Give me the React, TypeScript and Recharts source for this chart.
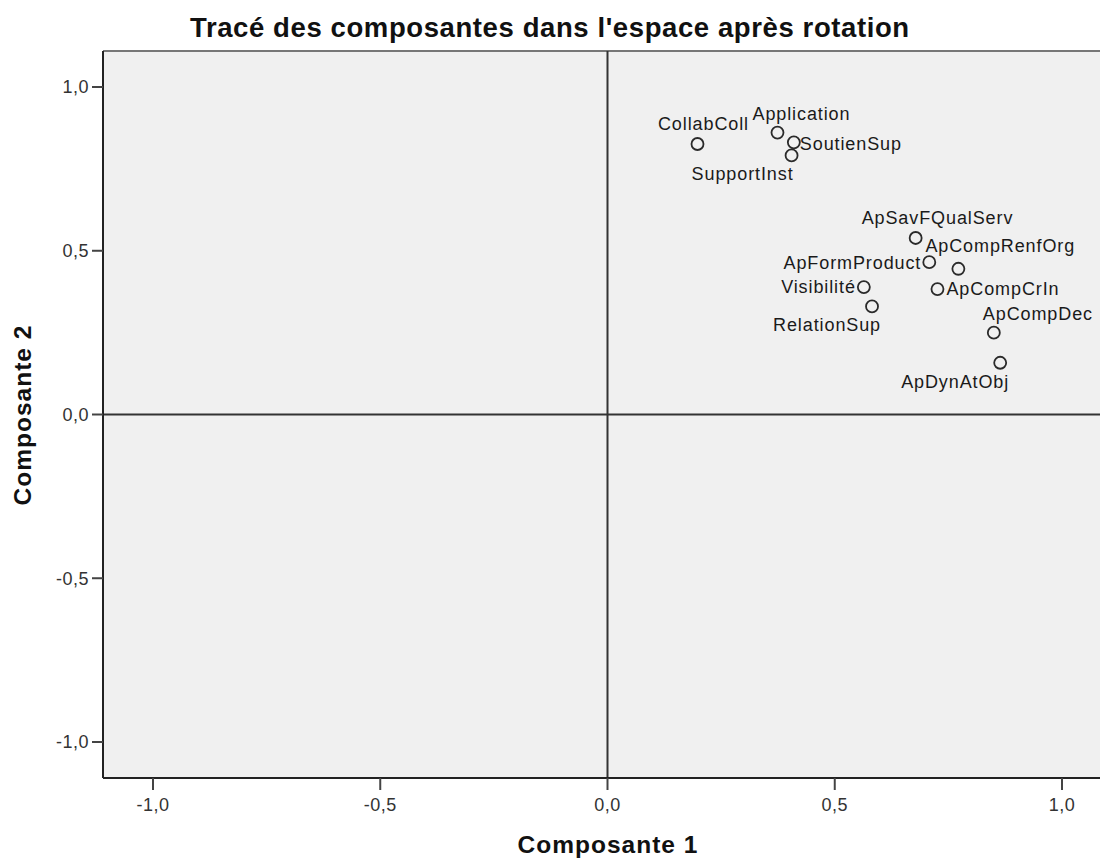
import React from 'react';
import {
  ScatterChart,
  Scatter,
  XAxis,
  YAxis,
  CartesianGrid,
  ReferenceLine,
  Label,
} from 'recharts';

// loadings after rotation
const components = [
  'CollabColl',
  'Application',
  'SoutienSup',
  'SupportInst',
  'ApSavFQualServ',
  'ApCompRenfOrg',
  'ApFormProduct',
  'Visibilité',
  'ApCompCrIn',
  'RelationSup',
  'ApCompDec',
  'ApDynAtObj',
];
const comp1 = [0.198, 0.374, 0.41, 0.405, 0.678, 0.772, 0.708, 0.564, 0.726, 0.582, 0.85, 0.864];
const comp2 = [0.826, 0.861, 0.831, 0.791, 0.539, 0.445, 0.465, 0.389, 0.383, 0.33, 0.25, 0.158];
const axisTicks = [-1, -0.5, 0, 0.5, 1];
const AXIS_LIMIT = 1.11;

// where each label sits relative to its point
const labelPlacement: Array<{ anchor: 'start' | 'middle' | 'end'; dx: number; dy: number }> = [
  { anchor: 'middle', dx: 6, dy: -14 },
  { anchor: 'start', dx: -25, dy: -13 },
  { anchor: 'start', dx: 6, dy: 8 },
  { anchor: 'end', dx: 2, dy: 25 },
  { anchor: 'start', dx: -54, dy: -14 },
  { anchor: 'start', dx: -33, dy: -17 },
  { anchor: 'end', dx: -8, dy: 7 },
  { anchor: 'end', dx: -8, dy: 6 },
  { anchor: 'start', dx: 9, dy: 6 },
  { anchor: 'end', dx: 9, dy: 25 },
  { anchor: 'start', dx: -11, dy: -13 },
  { anchor: 'end', dx: 9, dy: 25 },
];

const data = components.map((name, i) => ({ name, x: comp1[i], y: comp2[i], i }));

const FONT = '"Liberation Sans", Arial, sans-serif';
const fmt = (v: number) => v.toFixed(1).replace('.', ',');

const PointWithLabel = (props: any) => {
  const { cx, cy, payload } = props;
  const p = labelPlacement[payload.i];
  return (
    <g>
      <circle cx={cx} cy={cy} r={6} fill="none" stroke="#2a2a2a" strokeWidth={1.8} />
      <text
        x={cx + p.dx}
        y={cy + p.dy}
        textAnchor={p.anchor}
        fontSize={18}
        letterSpacing={0.9}
        fontFamily={FONT}
        fill="#1a1a1a"
      >
        {payload.name}
      </text>
    </g>
  );
};

export default function App() {
  return (
    <div
      style={{
        position: 'absolute',
        left: 0,
        top: 0,
        width: 1100,
        height: 858,
        overflow: 'hidden',
        background: '#fff',
      }}
    >
      <ScatterChart width={1125} height={858} margin={{ top: 51, right: 13, bottom: 0, left: 0 }}>
        <CartesianGrid fill="#f0f0f0" horizontal={false} vertical={false} />
        <XAxis
          type="number"
          dataKey="x"
          domain={[-AXIS_LIMIT, AXIS_LIMIT]}
          ticks={axisTicks}
          tickFormatter={fmt}
          height={80}
          tickSize={12}
          tickMargin={8}
          axisLine={{ stroke: '#222', strokeWidth: 2 }}
          tickLine={{ stroke: '#444', strokeWidth: 2 }}
          tick={{ fontSize: 18, fontFamily: FONT, fill: '#333', letterSpacing: 0.5 }}
        >
          <Label
            content={() => (
              <text
                x={608}
                y={853}
                textAnchor="middle"
                fontSize={24.5}
                letterSpacing={1}
                fontWeight="bold"
                fontFamily={FONT}
                fill="#111"
              >
                Composante 1
              </text>
            )}
          />
        </XAxis>
        <YAxis
          type="number"
          dataKey="y"
          domain={[-AXIS_LIMIT, AXIS_LIMIT]}
          ticks={axisTicks}
          tickFormatter={fmt}
          width={103}
          tickSize={11}
          tickMargin={3}
          axisLine={{ stroke: '#222', strokeWidth: 2 }}
          tickLine={{ stroke: '#444', strokeWidth: 2 }}
          tick={{ fontSize: 18, fontFamily: FONT, fill: '#333', letterSpacing: 0.5 }}
        >
          <Label
            content={() => (
              <text
                x={31}
                y={415}
                textAnchor="middle"
                fontSize={24.5}
                letterSpacing={1}
                fontWeight="bold"
                fontFamily={FONT}
                fill="#111"
                transform="rotate(-90, 31, 415)"
              >
                Composante 2
              </text>
            )}
          />
        </YAxis>
        <ReferenceLine y={AXIS_LIMIT} stroke="#777" strokeWidth={2} />
        <ReferenceLine x={0} stroke="#333" strokeWidth={2} />
        <ReferenceLine y={0} stroke="#333" strokeWidth={2} />
        <Scatter data={data} shape={PointWithLabel} isAnimationActive={false} />
      </ScatterChart>
      <svg
        width={1100}
        height={50}
        style={{ position: 'absolute', left: 0, top: 0, pointerEvents: 'none' }}
      >
        <text
          x={190}
          y={37}
          fontSize={27.5}
          letterSpacing={0.6}
          fontWeight="bold"
          fontFamily={FONT}
          fill="#111"
        >
          Tracé des composantes dans l'espace après rotation
        </text>
      </svg>
    </div>
  );
}
